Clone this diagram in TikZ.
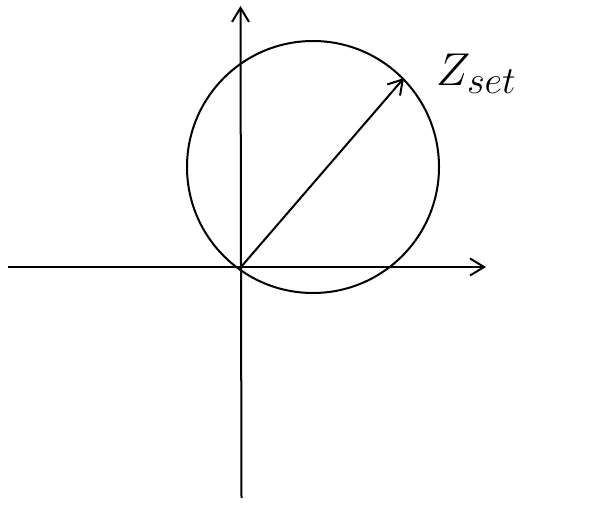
\documentclass[tikz,border=0pt]{standalone}
\usetikzlibrary{arrows.meta}
\begin{document}
\begin{tikzpicture}[x=1pt,y=-1pt,
  axis/.style={line width=2pt,-{Straight Barb[length=14pt,width=17pt,line width=2pt]}},
  ring/.style={line width=2pt}]
\useasboundingbox (0,0) rectangle (596,508);
\coordinate (O) at (241,267);
\coordinate (L) at (8,267);
\coordinate (R) at (486,267);
\coordinate (B) at (241.5,498);
\coordinate (T) at (240.5,6);
\coordinate (P) at (404,78);
\draw[ring] (313,167) circle[radius=126];
\draw[line width=2pt] (L) -- (O);
\draw[axis] (O) -- (R);
\draw[line width=2pt] (B) -- (O);
\draw[axis] (O) -- (T);
\draw[axis] (O) -- (P);
\node[anchor=base west,inner sep=0pt] (lbl) at (436,86) {\scalebox{1.85}{\Huge$Z_{set}$}};
\end{tikzpicture}
\end{document}
